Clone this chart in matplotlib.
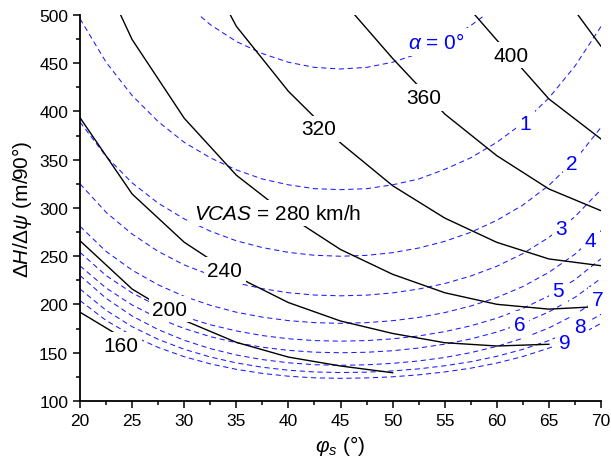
import matplotlib
matplotlib.use('Agg')
import matplotlib.pyplot as plt
import numpy as np

plt.rcParams['font.family'] = ['Liberation Sans', 'DejaVu Sans']
plt.rcParams['mathtext.fontset'] = 'custom'
plt.rcParams['mathtext.rm'] = 'Liberation Sans'
plt.rcParams['mathtext.it'] = 'Liberation Sans:italic'
plt.rcParams['mathtext.bf'] = 'Liberation Sans:bold'

# phi_s grid for the angle-of-attack curves (deg)
phi_a = [20, 22.5, 25, 27.5, 30, 32.5, 35, 37.5, 40, 42.5, 45,
         47.5, 50, 52.5, 55, 57.5, 60, 62.5, 65, 67.5, 70]

# dH/dpsi for constant alpha (m/90deg)
alpha0 = [691, 628, 580, 542, 513, 490, 472.5, 460, 451, 445.7, 444,
          445.7, 451, 460, 472, 489, 509, 540, 578, 625, 688]
alpha1 = [496, 451, 416.5, 389.5, 368, 352, 339.5, 330, 324, 320, 319,
          320, 324, 330, 340, 352, 368, 388, 414, 447, 488]
alpha2 = [389, 353.5, 326, 305, 288.7, 276, 266, 259, 254, 251, 250,
          250.9, 253.7, 258.5, 265.4, 274.8, 287.2, 303, 323.4, 349.6, 383.5]
alpha3 = [325, 295.5, 273, 255, 241, 230.6, 222.4, 216.4, 212.2, 209.8, 209,
          209.7, 212, 216, 221.7, 229.5, 239.6, 252.7, 269.5, 291, 319]
alpha4 = [281, 255, 235.6, 220.4, 208.4, 199.2, 192, 186.9, 183.3, 181.2, 180.5,
          181.2, 183.2, 186.6, 191.6, 198.4, 207.2, 218.6, 233.3, 252.1, 276.5]
alpha5 = [254, 230, 212, 198.2, 187.3, 179, 172.6, 167.8, 164.5, 162.6, 162,
          162.6, 164.4, 167.4, 171.9, 177.9, 185.8, 195.9, 208.9, 225.7, 247.4]
alpha6 = [240, 217.1, 199.5, 185.8, 175.1, 166.7, 160.4, 155.7, 152.5, 150.6, 150,
          150.5, 152.1, 154.9, 158.9, 164.3, 171.4, 180.6, 192.3, 207.4, 227]
alpha7 = [230, 206.4, 188.1, 174, 162.9, 154.3, 147.7, 142.9, 139.6, 137.6, 137,
          137.5, 139, 141.5, 145.1, 150.1, 156.6, 165, 175.7, 189.5, 207.4]
alpha8 = [216, 194, 177, 163.9, 153.6, 145.6, 139.5, 135, 131.9, 130.1, 129.5,
          129.9, 131.2, 133.3, 136.5, 140.7, 146.3, 153.5, 162.6, 174.5, 189.8]
alpha9 = [204, 183.5, 167.7, 155.5, 145.9, 138.5, 132.8, 128.6, 125.7, 124, 123.5,
          123.9, 125.1, 127.1, 130.1, 134, 139.3, 146.1, 154.8, 165.9, 180.4]
alpha_series = [alpha0, alpha1, alpha2, alpha3, alpha4,
                alpha5, alpha6, alpha7, alpha8, alpha9]

# constant VCAS curves (km/h)
phi_v160 = [20, 25]
v160 = [192, 159.5]
phi_v200 = [20, 25, 30, 35, 40, 45, 50]
v200 = [266, 216, 183.5, 160.8, 145.5, 136.3, 129.3]
phi_v240 = [20, 25, 30, 35, 40, 45, 50, 55, 60, 65]
v240 = [393.5, 314.5, 264.5, 229, 202, 182.9, 170, 160.4, 157, 158.8]
phi_v280 = [20, 25, 30, 35, 40, 45, 50, 55, 60, 65, 69]
v280 = [590, 474.5, 393, 334, 292, 257, 231.3, 212.2, 200.2, 195.2, 197.4]
phi_v320 = [30, 35, 40, 45, 50, 55, 60, 65, 70]
v320 = [590, 488.3, 420.9, 367.4, 323.1, 289.6, 264.4, 247.2, 240.2]
phi_v360 = [45, 50, 55, 60, 65, 70]
v360 = [517, 455, 397.4, 354.2, 319.7, 297.2]
phi_v400 = [55, 60, 65, 70]
v400 = [536, 474, 413, 371.5]
phi_v440 = [65, 70]
v440 = [541, 467.6]
vcas_series = [(phi_v160, v160), (phi_v200, v200), (phi_v240, v240),
               (phi_v280, v280), (phi_v320, v320), (phi_v360, v360),
               (phi_v400, v400), (phi_v440, v440)]

# label text and anchor (phi, dH/dpsi)
vcas_labels = ['160', '200', '240', r'$\mathit{VCAS}$ = 280 km/h', '320', '360', '400']
vcas_label_pos = [(23.9, 157.5), (28.6, 195.3), (33.9, 235.2), (38.95, 294.8),
                  (42.9, 382), (53.0, 414.5), (61.4, 458.5)]
alpha_labels = [r'$\alpha$ = 0°', '1', '2', '3', '4', '5', '6', '7', '8', '9']
alpha_label_pos = [(54.2, 472), (62.75, 388), (67.2, 346), (66.2, 279), (69.0, 266),
                   (65.9, 214.5), (62.2, 179.3), (69.7, 205), (68.0, 177.2), (66.5, 161.1)]

fig = plt.figure(figsize=(6.11, 4.64), dpi=100)
ax = fig.add_axes([0.131, 0.1336, 0.8526, 0.832])

for ys in alpha_series:
    ax.plot(phi_a, ys, color='#1a1aff', lw=0.75, dashes=(5, 3.5), zorder=2)
for xs, ys in vcas_series:
    ax.plot(xs, ys, color='black', lw=1.0, zorder=3)

box = dict(facecolor='white', edgecolor='none', pad=2.5)
for txt, (x, y) in zip(vcas_labels, vcas_label_pos):
    ax.text(x, y, txt, fontsize=15, color='black', ha='center', va='center',
            bbox=box, zorder=5)
for txt, (x, y) in zip(alpha_labels, alpha_label_pos):
    ax.text(x, y, txt, fontsize=15, color='#0000ff', ha='center', va='center',
            bbox=box, zorder=5)

ax.set_xlim(20, 70)
ax.set_ylim(100, 500)
ax.set_xticks(np.arange(20, 71, 5))
ax.set_xticks(np.arange(20, 71, 2.5), minor=True)
ax.set_yticks(np.arange(100, 501, 50))
ax.set_yticks(np.arange(100, 501, 25), minor=True)
ax.tick_params(which='major', direction='out', length=5, width=1.1, labelsize=12.5)
ax.tick_params(which='minor', direction='out', length=3, width=1.1)
for side in ['top', 'right']:
    ax.spines[side].set_visible(False)
for side in ['left', 'bottom']:
    ax.spines[side].set_linewidth(1.3)

ax.set_xlabel(r'$\varphi_s$ (°)', fontsize=15, labelpad=4)
ax.set_ylabel(r'$\mathit{\Delta H/\Delta\psi}$ (m/90°)', fontsize=15, labelpad=4)

fig.savefig('out.png', dpi=100)
